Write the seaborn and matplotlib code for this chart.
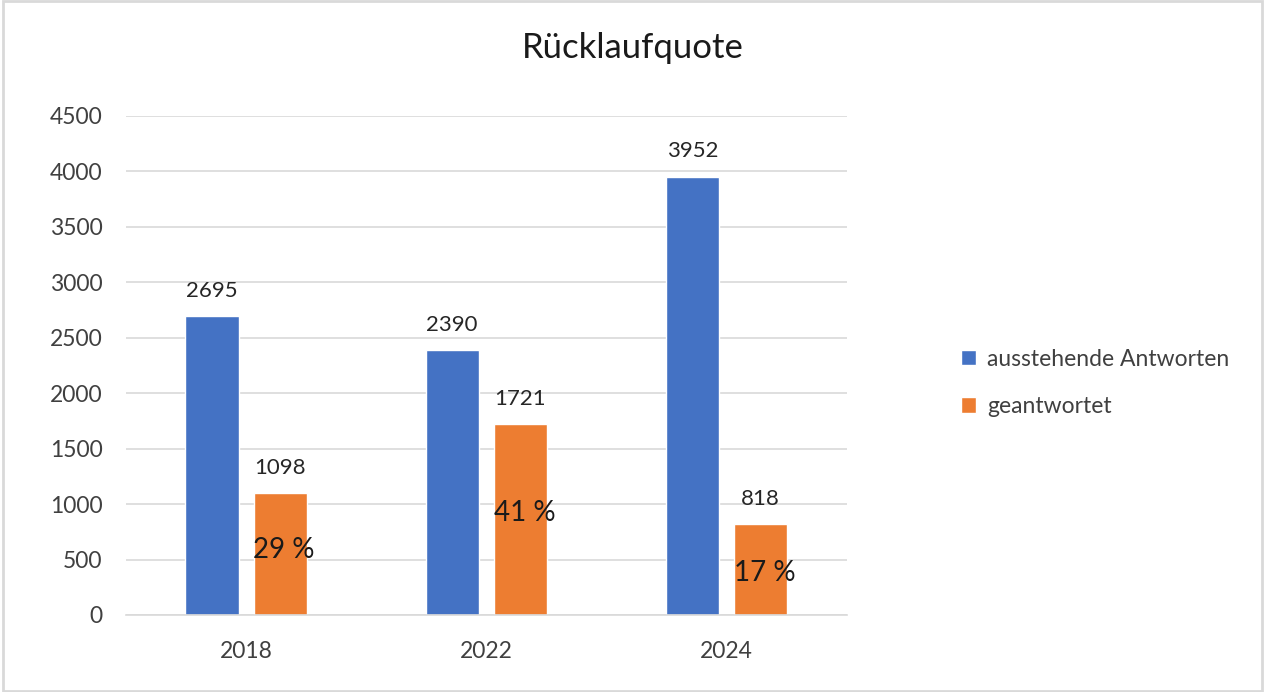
import matplotlib.pyplot as plt
import seaborn as sns
import pandas as pd
from matplotlib.patches import Rectangle

# Data
years = ["2018", "2022", "2024"]
ausstehend = [2695, 2390, 3952]
geantwortet = [1098, 1721, 818]
quote_labels = ["29 %", "41 %", "17 %"]
quote_y = [590, 922, 380]  # where the percent labels sit

series_names = ["ausstehende Antworten", "geantwortet"]
colors = ["#4472C4", "#ED7D31"]

df = pd.DataFrame({
    "Jahr": years * 2,
    "Wert": ausstehend + geantwortet,
    "Serie": [series_names[0]] * 3 + [series_names[1]] * 3,
})

sns.set_theme(style="white")
plt.rcParams['font.family'] = ['Lato', 'DejaVu Sans']

fig = plt.figure(figsize=(12.65, 6.92), dpi=100)
ax = fig.add_axes([0.0996, 0.1113, 0.5696, 0.7211])

sns.barplot(data=df, x="Jahr", y="Wert", hue="Serie", palette=colors,
            width=0.567, gap=0.22, ax=ax, saturation=1)

# value labels above bars
for cont in ax.containers:
    ax.bar_label(cont, labels=[str(int(v)) for v in cont.datavalues],
                 padding=11, fontsize=16, color="#262626")

# percent labels inside orange bars
orange_bars = ax.containers[1]
for bar, lab, y in zip(orange_bars, quote_labels, quote_y):
    ax.text(bar.get_x() + bar.get_width() / 2 + 4 / 240, y, lab,
            ha="center", va="center", fontsize=20, color="#1a1a1a")

ax.set_ylim(0, 4500)
ax.set_xlim(-0.5, 2.5)
ax.set_yticks(range(0, 4501, 500))
ax.yaxis.grid(True, color="#D9D9D9", linewidth=1.2)
ax.set_axisbelow(True)
for s in ["top", "right", "left"]:
    ax.spines[s].set_visible(False)
ax.spines["bottom"].set_color("#D9D9D9")
ax.spines["bottom"].set_linewidth(1.2)
ax.tick_params(axis="y", length=0, pad=17, labelsize=16.5, labelcolor="#404040")
ax.tick_params(axis="x", length=0, pad=19, labelsize=16.5, labelcolor="#404040")
ax.set_xlabel("")
ax.set_ylabel("")

fig.suptitle("Rücklaufquote", x=0.5, y=0.931, va="center", fontsize=25, color="#1a1a1a")

ax.legend(loc="center left", bbox_to_anchor=(1.13, 0.465), frameon=False,
          fontsize=16.5, handlelength=0.65, handleheight=0.65, handletextpad=0.5,
          labelspacing=1.15, labelcolor="#404040")

# light border around the chart area
fig.patches.append(Rectangle((0.002, 0.002), 0.996, 0.996, transform=fig.transFigure,
                             fill=False, edgecolor="#D9D9D9", linewidth=2))

fig.savefig("out.png", dpi=100)
